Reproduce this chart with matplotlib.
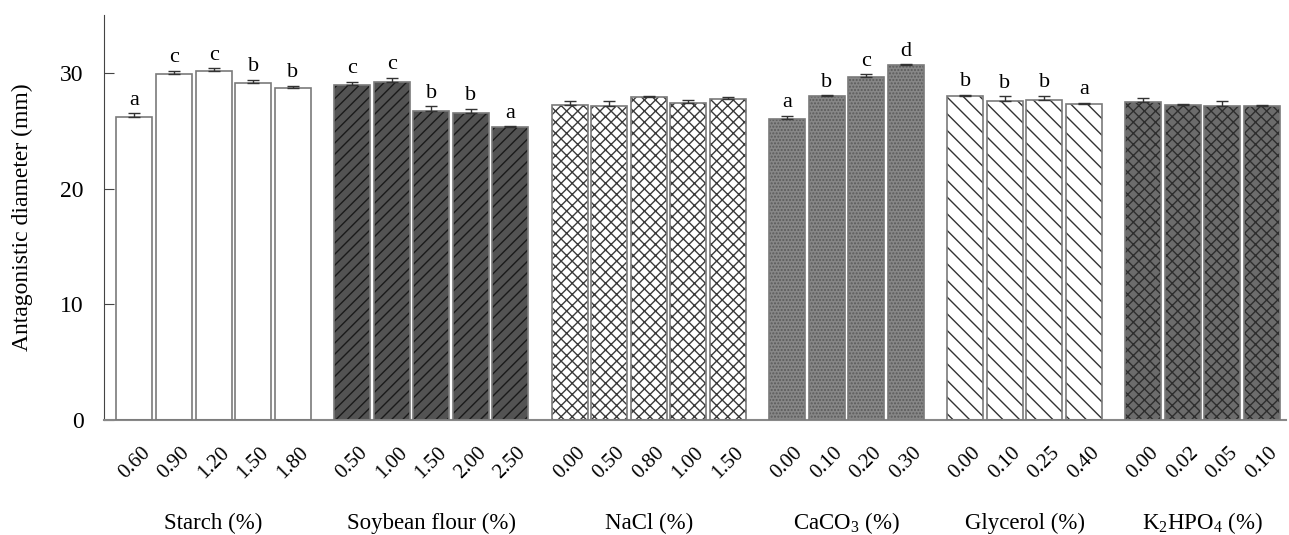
import numpy as np
import matplotlib.pyplot as plt
from matplotlib.transforms import blended_transform_factory

plt.rcParams['font.family'] = ['Liberation Serif', 'DejaVu Serif']
plt.rcParams['mathtext.fontset'] = 'custom'
plt.rcParams['mathtext.rm'] = 'Liberation Serif'
plt.rcParams['mathtext.it'] = 'Liberation Serif:italic'

# groups of the medium-optimisation experiment
groups = ['Starch (%)', 'Soybean flour (%)', 'NaCl (%)',
          r'CaCO$_\mathrm{3}$ (%)', 'Glycerol (%)', r'K$_\mathrm{2}$HPO$_\mathrm{4}$ (%)']

starch_lab = ['0.60', '0.90', '1.20', '1.50', '1.80']
starch_val = [26.2, 29.9, 30.2, 29.1, 28.7]
starch_err = [0.3, 0.3, 0.2, 0.3, 0.2]
starch_sig = ['a', 'c', 'c', 'b', 'b']

soy_lab = ['0.50', '1.00', '1.50', '2.00', '2.50']
soy_val = [28.95, 29.2, 26.7, 26.5, 25.3]
soy_err = [0.3, 0.37, 0.43, 0.4, 0.1]
soy_sig = ['c', 'c', 'b', 'b', 'a']

nacl_lab = ['0.00', '0.50', '0.80', '1.00', '1.50']
nacl_val = [27.2, 27.1, 27.9, 27.4, 27.75]
nacl_err = [0.35, 0.45, 0.12, 0.25, 0.2]
nacl_sig = ['', '', '', '', '']

caco3_lab = ['0.00', '0.10', '0.20', '0.30']
caco3_val = [26.0, 28.0, 29.65, 30.7]
caco3_err = [0.3, 0.07, 0.25, 0.05]
caco3_sig = ['a', 'b', 'c', 'd']

glyc_lab = ['0.00', '0.10', '0.25', '0.40']
glyc_val = [28.0, 27.6, 27.65, 27.3]
glyc_err = [0.09, 0.4, 0.37, 0.1]
glyc_sig = ['b', 'b', 'b', 'a']

k_lab = ['0.00', '0.02', '0.05', '0.10']
k_val = [27.5, 27.2, 27.1, 27.15]
k_err = [0.35, 0.1, 0.43, 0.05]
k_sig = ['', '', '', '']

data = [
    (starch_lab, starch_val, starch_err, starch_sig),
    (soy_lab, soy_val, soy_err, soy_sig),
    (nacl_lab, nacl_val, nacl_err, nacl_sig),
    (caco3_lab, caco3_val, caco3_err, caco3_sig),
    (glyc_lab, glyc_val, glyc_err, glyc_sig),
    (k_lab, k_val, k_err, k_sig),
]

# face colour, hatch, hatch colour per group
styles = [
    ('white', '', 'black'),
    ('#535353', '///', '#1a1a1a'),
    ('white', 'xxx', '#3a3a3a'),
    ('#878787', '.....', '#5a5a5a'),
    ('white', '\\\\', '#333333'),
    ('#6c6c6c', 'xxx', '#2e2e2e'),
]

fig = plt.figure(figsize=(12.89, 5.35), dpi=100)
ax = fig.add_axes([0.081, 0.215, 0.917, 0.757])

trans = blended_transform_factory(ax.transData, ax.transAxes)
width = 0.91
pos = 0.0
all_x, all_lab = [], []
for (labs, vals, errs, sigs), (fc, hatch, hc), gname in zip(data, styles, groups):
    x = pos + np.arange(len(vals))
    ax.bar(x, vals, width=width, color=fc, hatch=hatch, edgecolor=hc,
           linewidth=0, zorder=2)
    ax.bar(x, vals, width=width, fill=False, edgecolor='#7a7a7a',
           linewidth=1.2, zorder=3)
    ax.errorbar(x, vals, yerr=[np.zeros(len(errs)), errs], fmt='none',
                ecolor='#333333', elinewidth=1, capsize=4, capthick=1, zorder=4)
    for xi, v, e, s in zip(x, vals, errs, sigs):
        if s:
            ax.text(xi, v + e + 0.3, s, ha='center', va='bottom', fontsize=16)
    ax.text(x.mean(), -0.255, gname, transform=trans, ha='center', va='center',
            fontsize=16.5)
    all_x.extend(x)
    all_lab.extend(labs)
    pos = x[-1] + 1.5

ax.set_xticks(all_x)
ax.set_xticklabels(all_lab, rotation=45, ha='center', fontsize=15)
ax.tick_params(axis='x', direction='in', length=5, pad=17, color='#444444')
ax.tick_params(axis='y', direction='in', length=7, labelsize=17, pad=15,
               color='#444444')

ax.set_xlim(-0.76, all_x[-1] + 0.62)
ax.set_ylim(0, 35)
ax.set_yticks([0, 10, 20, 30])
ax.set_ylabel('Antagonistic diameter (mm)', fontsize=17)
ax.yaxis.set_label_coords(-0.06, 0.5)

for side in ['top', 'right']:
    ax.spines[side].set_visible(False)
ax.spines['left'].set_color('#444444')
ax.spines['bottom'].set_color('#888888')
ax.spines['bottom'].set_linewidth(1.5)

plt.savefig('out.png', dpi=100, facecolor='white')
